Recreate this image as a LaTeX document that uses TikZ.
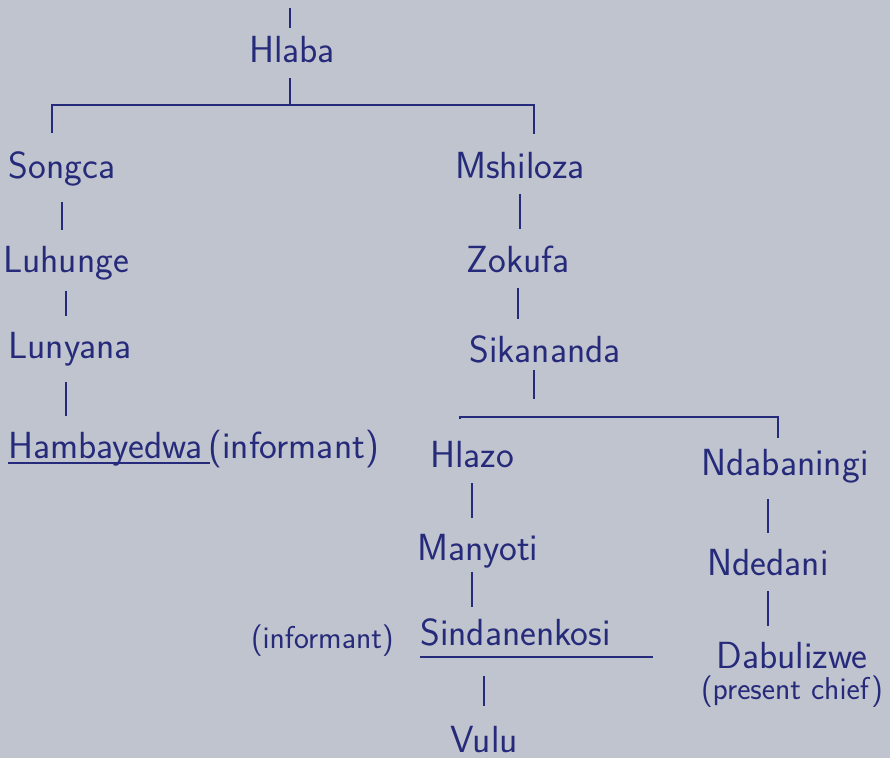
\documentclass[tikz,border=0pt]{standalone}
\usepackage{fontspec}
\usetikzlibrary{positioning, calc}
\definecolor{paper}{RGB}{192,196,206}
\definecolor{ink}{RGB}{38,42,122}

\begin{document}
\begin{tikzpicture}[
    x=0.02cm, y=-0.02cm,
    person/.style={inner sep=0pt, anchor=base, text=ink, font=\sffamily\fontsize{21.5}{24}\selectfont},
    note/.style={inner sep=0pt, text=ink, font=\sffamily\fontsize{18}{20}\selectfont},
    tick/.style={draw=ink, line width=1pt, shorten <=9pt, shorten >=9pt},
    bar/.style={draw=ink, line width=1pt}
]
\fill[paper] (0,0) rectangle (890,758);
\useasboundingbox (0,0) rectangle (890,758);

% Top of the tree
\coordinate (top) at (290,8);
\node[person] (hlaba) at (292,62) {Hlaba};
\coordinate (fork1) at (290,105);
\coordinate (fork1l) at (52,105);
\coordinate (fork1r) at (534,105);

% Left line
\node[person] (songca) at (62,178) {Songca};
\node[person] (luhunge) at (66,272) {Luhunge};
\node[person] (lunyana) at (70,358) {Lunyana};
\node[person, anchor=base west] (hamba) at (8,458) {Hambayedwa};
\node[person, right=3pt of hamba.base east, anchor=base west] (informa) {(informant)};

% Right line
\node[person] (mshiloza) at (520,178) {Mshiloza};
\node[person] (zokufa) at (518,272) {Zokufa};
\node[person] (sikananda) at (545,362) {Sikananda};
\coordinate (fork2) at (534,417);
\coordinate (fork2l) at (460,417);
\coordinate (fork2r) at (778,417);

% Hlazo house
\node[person] (hlazo) at (472,467) {Hlazo};
\node[person] (manyoti) at (478,560) {Manyoti};
\node[person, anchor=base west] (sinda) at (420,645) {Sindanenkosi};
\node[note, anchor=base east] (informb) at (394,648) {(informant)};
\node[person] (vulu) at (484,752) {Vulu};

% Ndabaningi house
\node[person] (ndaba) at (785,475) {Ndabaningi};
\node[person] (ndedani) at (768,575) {Ndedani};
\node[person] (dabulizwe) at (792,668) {Dabulizwe};
\node[note, below=4pt of dabulizwe] (chief) {(present chief)};

% Lines
\draw[tick, shorten <=0pt, shorten >=4pt] (top) -- (top |- hlaba.north);
\draw[tick, shorten >=0pt] (hlaba.south -| fork1) -- (fork1);
\draw[bar, shorten <=10pt, shorten >=10pt] (songca.north -| fork1l) -- (fork1l) -- (fork1r) -- (mshiloza.north -| fork1r);

\draw[tick] (songca.south) -- (songca.south |- luhunge.north);
\draw[tick, shorten <=6pt] (luhunge.south) -- (luhunge.south |- lunyana.north);
\draw[tick] (lunyana.south -| luhunge) -- (luhunge |- hamba.north);
\draw[bar] ([yshift=-3pt]hamba.base west) -- ([yshift=-3pt, xshift=4pt]hamba.base east);

\draw[tick] (mshiloza.south) -- (mshiloza.south |- zokufa.north);
\draw[tick] (zokufa.south) -- (zokufa.south |- sikananda.north);
\draw[tick, shorten <=4pt, shorten >=10pt] (sikananda.south -| fork2) -- (fork2);
\draw[bar, shorten <=12pt, shorten >=6pt] (hlazo.north -| fork2l) -- (fork2l) -- (fork2r) -- (ndaba.north -| fork2r);

\draw[tick] (hlazo.south) -- (hlazo.south |- manyoti.north);
\draw[tick, shorten <=2pt, shorten >=6pt] (manyoti.south -| hlazo) -- (hlazo |- sinda.north);
\draw[bar] ([yshift=-7pt]sinda.base west) -- ([yshift=-7pt, xshift=24pt]sinda.base east);
\draw[tick, shorten <=17pt, shorten >=11pt] (sinda.south -| vulu) -- (vulu.north);

\draw[tick] (ndaba.south -| ndedani) -- (ndedani.north);
\draw[tick] (ndedani.south) -- (ndedani.south |- dabulizwe.north);

\end{tikzpicture}
\end{document}
